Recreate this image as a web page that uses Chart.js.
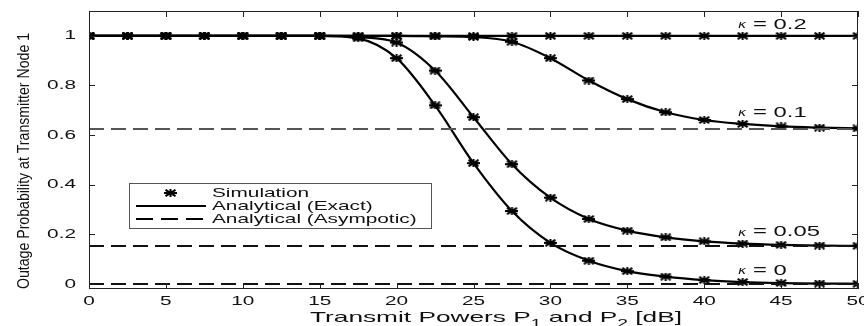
<!DOCTYPE html>
<html>
<head>
<meta charset="utf-8">
<script src="https://cdn.jsdelivr.net/npm/chart.js@4/dist/chart.umd.min.js"></script>
<style>
body{margin:0;background:#fff}
#wrap{width:864px;height:326px}
</style>
</head>
<body>
<div id="wrap"><canvas id="c"></canvas></div>
<script>
// transmit power grid (dB) and outage values
const powers = [0,2.5,5,7.5,10,12.5,15,17.5,20,22.5,25,27.5,30,32.5,35,37.5,40,42.5,45,47.5,50];
const kappa02 = [1,1,1,1,1,1,1,1,1,1,1,1,1,1,1,1,1,1,1,1,1];
const kappa01 = [1,1,1,1,1,1,1,1,1,0.998,0.995,0.976,0.91,0.82,0.745,0.692,0.661,0.645,0.635,0.63,0.627];
const kappa005 = [1,1,1,1,1,1,1,0.995,0.973,0.86,0.672,0.483,0.348,0.262,0.215,0.188,0.172,0.163,0.158,0.155,0.154];
const kappa0 = [1,1,1,1,1,1,1,0.99,0.91,0.72,0.487,0.294,0.166,0.094,0.052,0.03,0.016,0.008,0.004,0.002,0.001];
const asymptotes = [0.625, 0.153, 0];
const curveLabels = ['0.2','0.1','0.05','0'];
const labelAnchorY = [1.044, 0.69, 0.21, 0.053];
const xTicks = [0,5,10,15,20,25,30,35,40,45,50];
const yTicks = [0,0.2,0.4,0.6,0.8,1];
const legendItems = ['Simulation','Analytical (Exact)','Analytical (Asympotic)'];

const STRETCH = 1.6;
const FONT = '"Liberation Sans", Arial, sans-serif';

// stretched asterisk marker, like the matlab '*'
function makeStar(){
  const c = document.createElement('canvas');
  c.width = 13; c.height = 8;
  const g = c.getContext('2d');
  g.strokeStyle = '#000'; g.lineWidth = 2; g.lineCap = 'butt';
  g.beginPath();
  g.moveTo(0,4); g.lineTo(13,4);
  g.moveTo(6.5,0); g.lineTo(6.5,8);
  g.moveTo(1.5,0.8); g.lineTo(11.5,7.2);
  g.moveTo(1.5,7.2); g.lineTo(11.5,0.8);
  g.stroke();
  return c;
}
const star = makeStar();

const pts = ys => powers.map((p,i)=>({x:p,y:ys[i]}));
const curves = [kappa02, kappa01, kappa005, kappa0];

const datasets = [];
asymptotes.forEach((a,i)=>{
  datasets.push({data:[{x:0,y:a},{x:50,y:a}], borderColor:i===0?'#555':'#111', borderWidth:2,
    borderDash:[15,7], pointRadius:0, fill:false});
});
curves.forEach(c=>{
  datasets.push({data:pts(c), borderColor:'#000', borderWidth:2.2, pointRadius:0,
    cubicInterpolationMode:'monotone', fill:false});
});
curves.forEach(c=>{
  datasets.push({data:pts(c), showLine:false, pointStyle:star, pointRadius:5});
});

function sText(ctx, t, x, y, align, sx){
  ctx.save();
  ctx.translate(x,y); ctx.scale(sx,1);
  ctx.textAlign = align;
  ctx.fillText(t,0,0);
  ctx.restore();
}

const frame = {
  id:'frame',
  afterDraw(chart){
    const {ctx, chartArea:a, scales:{x,y}} = chart;
    ctx.save();
    // box and inward ticks
    ctx.strokeStyle='#222'; ctx.lineWidth=1;
    ctx.strokeRect(a.left+0.5, a.top+0.5, a.right-a.left-1, a.bottom-a.top-1);
    ctx.beginPath();
    xTicks.forEach(v=>{
      const px=Math.round(x.getPixelForValue(v))+0.5;
      ctx.moveTo(px,a.bottom); ctx.lineTo(px,a.bottom-6);
      ctx.moveTo(px,a.top); ctx.lineTo(px,a.top+6);
    });
    yTicks.forEach(v=>{
      const py=Math.round(y.getPixelForValue(v))+0.5;
      ctx.moveTo(a.left,py); ctx.lineTo(a.left+6,py);
      ctx.moveTo(a.right,py); ctx.lineTo(a.right-6,py);
    });
    ctx.stroke();

    // tick labels from the scales
    ctx.fillStyle='#111';
    ctx.font='13px '+FONT;
    ctx.textBaseline='middle';
    x.ticks.forEach(t=>{
      sText(ctx, String(t.value), x.getPixelForValue(t.value), a.bottom+12, 'center', STRETCH);
    });
    y.ticks.forEach(t=>{
      sText(ctx, String(t.value), a.left-13, y.getPixelForValue(t.value), 'right', STRETCH);
    });

    // kappa labels
    curveLabels.forEach((t,i)=>{
      const px=x.getPixelForValue(42.2), py=y.getPixelForValue(labelAnchorY[i]);
      ctx.font='italic 10px "DejaVu Sans"';
      sText(ctx, 'κ', px, py+1, 'left', 1.4);
      ctx.font='14px '+FONT;
      sText(ctx, '= '+t, px+15, py, 'left', 1.7);
    });

    // legend
    const lx=a.left+40, ly=a.top+172, lw=302, lh=45;
    ctx.fillStyle='#fff'; ctx.fillRect(lx,ly,lw,lh);
    ctx.strokeStyle='#555'; ctx.lineWidth=1; ctx.setLineDash([]);
    ctx.strokeRect(lx+0.5,ly+0.5,lw,lh);
    ctx.drawImage(star, lx+41-6, ly+10-4);
    ctx.strokeStyle='#000'; ctx.lineWidth=2;
    ctx.beginPath(); ctx.moveTo(lx+7,ly+23); ctx.lineTo(lx+77,ly+23); ctx.stroke();
    ctx.setLineDash([17,8]);
    ctx.beginPath(); ctx.moveTo(lx+7,ly+36); ctx.lineTo(lx+77,ly+36); ctx.stroke();
    ctx.setLineDash([]);
    ctx.font='13px '+FONT; ctx.fillStyle='#111';
    legendItems.forEach((t,i)=>{
      sText(ctx, t, lx+83, ly+10+13*i, 'left', STRETCH);
    });

    // x axis title with subscripts
    const parts=[['Transmit Powers P',0],['1',1],[' and P',0],['2',1],[' [dB]',0]];
    const sx=1.75;
    let total=0;
    parts.forEach(p=>{ctx.font=(p[1]?'11px ':'15px ')+FONT; total+=ctx.measureText(p[0]).width*sx;});
    let cx=496-total/2;
    ctx.textBaseline='alphabetic';
    parts.forEach(p=>{
      ctx.font=(p[1]?'11px ':'15px ')+FONT;
      sText(ctx, p[0], cx, p[1]?327:322, 'left', sx);
      cx+=ctx.measureText(p[0]).width*sx;
    });

    // y axis title, condensed
    ctx.translate(25,(a.top+a.bottom)/2+11);
    ctx.rotate(-Math.PI/2);
    ctx.font='16px '+FONT;
    const yt='Outage Probability at Transmitter Node 1';
    const w=ctx.measureText(yt).width;
    ctx.scale(256/w,1);
    ctx.textAlign='center'; ctx.textBaseline='middle';
    ctx.fillText(yt,0,0);
    ctx.restore();
  }
};

new Chart(document.getElementById('c'), {
  type:'line',
  data:{datasets},
  options:{
    responsive:true, maintainAspectRatio:false, animation:false,
    layout:{padding:{top:11,right:2,left:0,bottom:0}},
    plugins:{legend:{display:false}, tooltip:{enabled:false}},
    scales:{
      x:{type:'linear', min:0, max:50,
        grid:{display:false}, border:{display:false},
        afterBuildTicks:s=>{s.ticks=xTicks.map(v=>({value:v}));},
        afterFit:s=>{s.height=37;},
        ticks:{display:false}},
      y:{type:'linear', min:-0.02, max:1.1,
        grid:{display:false}, border:{display:false},
        afterBuildTicks:s=>{s.ticks=yTicks.map(v=>({value:v}));},
        afterFit:s=>{s.width=89;},
        ticks:{display:false}}
    }
  },
  plugins:[frame]
});
</script>
</body>
</html>
